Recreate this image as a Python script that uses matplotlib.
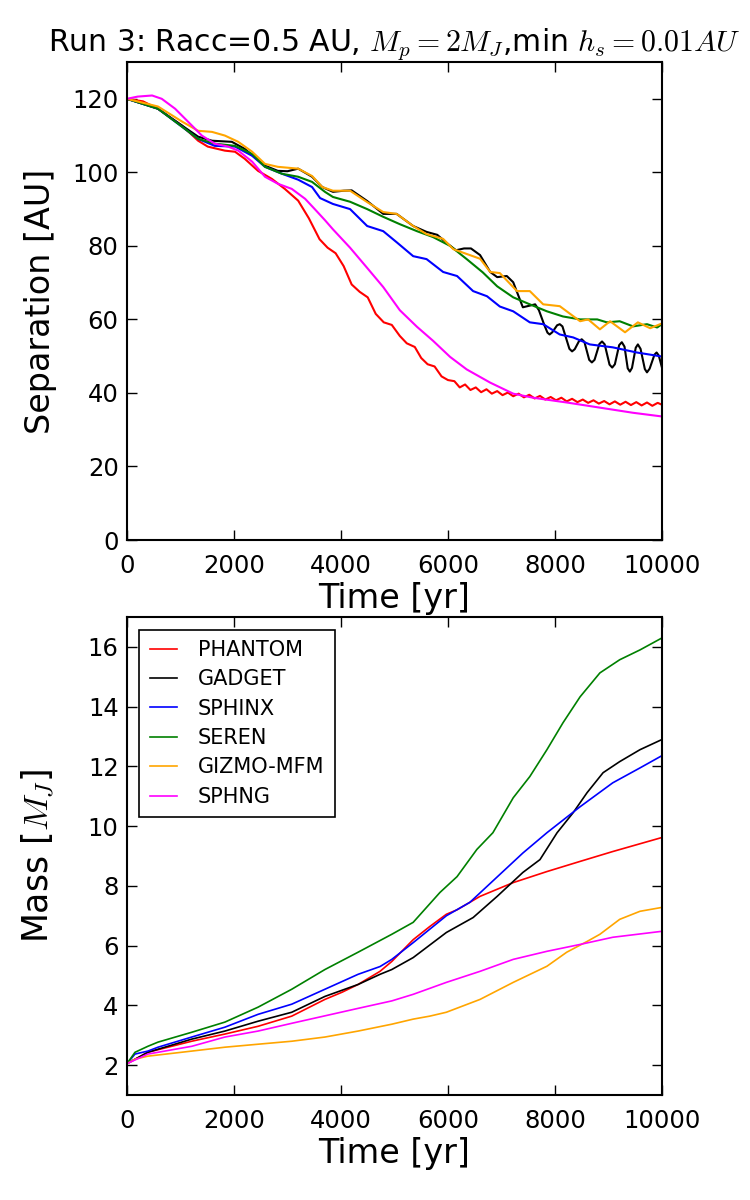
import matplotlib
matplotlib.use("Agg")
import matplotlib.pyplot as plt

plt.rcParams["font.family"] = ["DejaVu Sans"]
plt.rcParams["mathtext.fontset"] = "cm"

codes = ["PHANTOM", "GADGET", "SPHINX", "SEREN", "GIZMO-MFM", "SPHNG"]
colors = ["red", "black", "blue", "green", "orange", "magenta"]

# ---- separation [AU] vs time [yr] ----
t_sep_phantom = [0, 300, 580, 800, 1030, 1330, 1510, 1830, 2020, 2200, 2450, 2710, 2950,
                 3200, 3400, 3600, 3750, 3900, 4050, 4200, 4350, 4500, 4650, 4800, 4950,
                 5100, 5230, 5380, 5500, 5620, 5750, 5880, 6000, 6120,
                 6220, 6320, 6420, 6520, 6620, 6720, 6820, 6920, 7020, 7120, 7220, 7320,
                 7420, 7520, 7620, 7720, 7820, 7920, 8020, 8120, 8220, 8320, 8420, 8520,
                 8620, 8720, 8820, 8920, 9020, 9120, 9220, 9320, 9420, 9520, 9620, 9720,
                 9820, 9920, 10000]
sep_phantom = [120, 119.3, 117.3, 115, 112.7, 108.6, 107, 105.9, 105.6, 103.7, 100.4, 98.2, 95.5,
               92.3, 87.5, 81.8, 79.5, 78, 74.5, 69.5, 67.5, 66, 61.5, 59.2, 58.5,
               55.5, 53.5, 52.5, 49.5, 47.8, 47.2, 44.5, 43.5, 43.2,
               41.5, 42.3, 40.8, 41.5, 40.2, 41.0, 39.8, 40.5, 39.4, 40.1, 39.1, 39.8,
               38.8, 39.5, 38.5, 39.2, 38.2, 38.9, 38.0, 38.7, 37.7, 38.4, 37.5, 38.2,
               37.3, 38.0, 37.1, 37.8, 36.9, 37.7, 36.8, 37.6, 36.7, 37.5, 36.6, 37.4,
               36.5, 37.3, 36.8]

t_sep_gadget = [0, 580, 1030, 1330, 1590, 1960, 2200, 2580, 2820, 3000, 3200, 3460, 3650,
                3850, 4050, 4200, 4490, 4790, 5040, 5350, 5600, 5800, 6000, 6150, 6300,
                6430, 6600, 6790, 6920, 7100, 7220, 7400, 7630, 7700, 7800, 7860, 7900,
                7950, 8040, 8090, 8140, 8270, 8320, 8370, 8450, 8500, 8550, 8640, 8690,
                8740, 8830, 8880, 8930, 9020, 9070, 9120, 9200, 9250, 9300, 9360, 9400,
                9440, 9510, 9550, 9600, 9680, 9720, 9770, 9860, 9900, 9940, 10000]
sep_gadget = [120, 117.3, 112.7, 109.7, 108.6, 108.3, 106.4, 101.8, 100.4, 100.3, 101, 98.8, 96,
              94.7, 95, 95.1, 92.2, 88.7, 88.7, 85.4, 83.8, 83.0, 80.5, 78.8, 79.3,
              79.3, 77.5, 72.9, 71.5, 71.8, 70.1, 63.3, 64.1, 62.5, 58.5, 56.4, 55.9,
              56.5, 58.4, 58.7, 58.1, 52.0, 51.3, 51.9, 54.1, 54.6, 53.9, 49.0, 48.3,
              49.0, 53.3, 54.0, 53.2, 47.7, 46.9, 47.8, 53.0, 53.8, 52.6, 46.7, 45.8,
              46.8, 52.3, 53.2, 52.0, 46.5, 45.6, 46.6, 50.4, 51.0, 50.2, 46.9]

t_sep_sphinx = [0, 580, 1030, 1330, 1640, 2020, 2340, 2580, 2900, 3200, 3460, 3610, 3850,
                4170, 4490, 4790, 5040, 5350, 5600, 5910, 6170, 6470, 6730, 6970, 7220,
                7530, 7780, 8090, 8340, 8650, 9080, 9530, 10000]
sep_sphinx = [120, 117.3, 112.4, 109.1, 107.2, 107, 104.5, 101.5, 99.6, 98, 96, 93, 91.4,
              90, 85.4, 84, 81, 77.2, 76.4, 72.9, 71.8, 67.7, 66.3, 63.5, 62.2,
              59.2, 58.7, 55.9, 55.1, 53.2, 52.4, 51, 49.9]

t_sep_seren = [0, 580, 1030, 1330, 1640, 2020, 2340, 2580, 2900, 3200, 3460, 3700, 3850,
               4170, 4490, 4790, 5100, 5420, 5720, 6040, 6350, 6650, 6920, 7220, 7530,
               7850, 8150, 8470, 8790, 8970, 9210, 9460, 9720, 9910, 10000]
sep_seren = [120, 117.3, 112.4, 109.1, 107.8, 107.2, 105, 101.5, 99.6, 98.8, 97.4, 94.7, 93.3,
             92, 90, 87.9, 85.9, 84, 82.4, 80, 76.4, 72.8, 69, 66, 64.1,
             62.2, 60.8, 60, 60, 59.2, 59.5, 58.1, 58.7, 57.8, 58.7]

t_sep_gizmo = [0, 580, 1030, 1330, 1590, 1830, 2080, 2340, 2580, 2820, 3200, 3460, 3650,
               3850, 4170, 4490, 4790, 5040, 5350, 5600, 5910, 6100, 6350, 6600, 6790,
               6970, 7290, 7530, 7780, 8090, 8470, 8620, 8840, 9030, 9310, 9550, 9780, 10000]
sep_gizmo = [120, 117.9, 113.8, 111.3, 111, 110, 108.3, 105.6, 102.3, 101.5, 101, 99, 96,
             95, 95, 91.9, 89.2, 88.7, 85.4, 83.2, 81.9, 79.1, 77.8, 76.5, 72.9,
             72.6, 67.7, 67.7, 64.1, 63.6, 59.5, 60, 57.3, 59.5, 56.5, 59.2, 57.6, 58.9]

t_sep_sphng = [0, 200, 470, 650, 900, 1140, 1400, 1640, 1890, 2080, 2340, 2580, 2820, 3080,
               3330, 3510, 3700, 3850, 4170, 4490, 4790, 5100, 5420, 5720, 6040, 6350,
               6790, 7220, 7590, 8220, 8840, 9460, 10000]
sep_sphng = [120, 120.6, 120.9, 120, 117.3, 113.8, 110, 107.8, 107, 105.9, 102.9, 98.8, 96.9, 95.5,
             92.8, 90, 87, 84.5, 79.5, 74, 68.8, 62.5, 58, 54.2, 49.8, 46.4,
             42.8, 39.8, 38.7, 37.4, 36, 34.6, 33.6]

# ---- accreted mass [M_J] vs time [yr] ----
t_mass_phantom = [0, 390, 1210, 1830, 2450, 3080, 3700, 4020, 4320, 4730, 4950, 5350, 5660,
                  5970, 6170, 6600, 7220, 7850, 8470, 9080, 10000]
mass_phantom = [2.05, 2.43, 2.8, 3.04, 3.3, 3.64, 4.2, 4.44, 4.7, 5.14, 5.47, 6.2, 6.64,
                7.05, 7.2, 7.65, 8.11, 8.48, 8.82, 9.15, 9.62]

t_mass_gadget = [0, 390, 1210, 1830, 2450, 3080, 3700, 4320, 4730, 4950, 5350, 5970, 6470,
                 6920, 7400, 7720, 8040, 8340, 8600, 8900, 9210, 9590, 10000]
mass_gadget = [2.05, 2.43, 2.87, 3.14, 3.47, 3.77, 4.3, 4.7, 5.04, 5.2, 5.6, 6.44, 6.94,
               7.65, 8.45, 8.88, 9.78, 10.45, 11.12, 11.79, 12.16, 12.56, 12.9]

t_mass_sphinx = [0, 150, 390, 580, 1210, 1830, 2450, 3080, 3700, 4320, 4730, 4950, 5350,
                 5970, 6410, 6920, 7400, 7850, 8470, 9080, 9590, 10000]
mass_sphinx = [2.05, 2.37, 2.47, 2.6, 2.94, 3.27, 3.7, 4.04, 4.54, 5.04, 5.3, 5.54, 6.1,
               7.0, 7.45, 8.3, 9.1, 9.78, 10.65, 11.45, 11.95, 12.36]

t_mass_seren = [0, 150, 390, 580, 1210, 1830, 2450, 3080, 3700, 4320, 4950, 5350, 5850,
                6170, 6540, 6840, 7220, 7530, 7850, 8150, 8470, 8840, 9210, 9590, 10000]
mass_seren = [2.05, 2.43, 2.63, 2.77, 3.1, 3.44, 3.94, 4.54, 5.2, 5.78, 6.38, 6.78, 7.78,
              8.31, 9.22, 9.78, 10.95, 11.66, 12.56, 13.46, 14.33, 15.13, 15.57, 15.9, 16.3]

t_mass_gizmo = [0, 150, 390, 1210, 1830, 2450, 3080, 3700, 4320, 4950, 5350, 5660, 5970,
                6600, 7220, 7850, 8220, 8600, 8840, 9210, 9590, 10000]
mass_gizmo = [2.05, 2.2, 2.3, 2.47, 2.6, 2.7, 2.8, 2.94, 3.14, 3.37, 3.54, 3.64, 3.77,
              4.2, 4.77, 5.31, 5.78, 6.14, 6.38, 6.88, 7.15, 7.28]

t_mass_sphng = [0, 390, 1210, 1830, 2450, 3080, 3700, 4320, 4950, 5350, 5970, 6600, 7220,
                7850, 8470, 9080, 10000]
mass_sphng = [2.05, 2.37, 2.63, 2.94, 3.14, 3.4, 3.65, 3.9, 4.15, 4.37, 4.77, 5.14, 5.54,
              5.81, 6.04, 6.28, 6.48]

sep_series = [(t_sep_phantom, sep_phantom), (t_sep_gadget, sep_gadget),
              (t_sep_sphinx, sep_sphinx), (t_sep_seren, sep_seren),
              (t_sep_gizmo, sep_gizmo), (t_sep_sphng, sep_sphng)]
mass_series = [(t_mass_phantom, mass_phantom), (t_mass_gadget, mass_gadget),
               (t_mass_sphinx, mass_sphinx), (t_mass_seren, mass_seren),
               (t_mass_gizmo, mass_gizmo), (t_mass_sphng, mass_sphng)]

fig = plt.figure(figsize=(7.5, 12), dpi=100)
ax1 = fig.add_axes([0.1693, 0.55, 0.7133, 0.3983])
ax2 = fig.add_axes([0.1693, 0.0875, 0.7133, 0.3983])

for (t, s), c, lab in zip(sep_series, colors, codes):
    ax1.plot(t, s, color=c, lw=1.5, label=lab, solid_joinstyle="round")
for (t, m), c, lab in zip(mass_series, colors, codes):
    ax2.plot(t, m, color=c, lw=1.2, label=lab, solid_joinstyle="round")

ax1.set_xlim(0, 10000)
ax1.set_ylim(0, 130)
ax1.set_yticks(range(0, 121, 20))
ax2.set_xlim(0, 10000)
ax2.set_ylim(1, 17)
ax2.set_yticks(range(2, 17, 2))

for ax in (ax1, ax2):
    ax.set_xticks(range(0, 10001, 2000))
    ax.tick_params(direction="in", top=True, right=True, length=7, width=1,
                   labelsize=17.5, pad=6)
    ax.tick_params(axis="x", pad=10)
    for sp in ax.spines.values():
        sp.set_linewidth(1.5)
    ax.set_xlabel("Time [yr]", fontsize=24, labelpad=3)
    ax.yaxis.set_label_coords(-0.13, 0.5)

ax1.set_ylabel("Separation [AU]", fontsize=24)
ax2.set_ylabel("Mass [$M_J$]", fontsize=25)
ax1.set_title(r"Run 3: Racc=0.5 AU, $M_p=2M_J$,min $h_s=0.01AU$", fontsize=21.5, pad=8)

leg = ax2.legend(loc="upper left", fontsize=15, handlelength=1.3, handletextpad=1.0,
                 labelspacing=0.45, borderpad=0.5, borderaxespad=0.6,
                 fancybox=False, framealpha=1)
leg.get_frame().set_edgecolor("black")
leg.get_frame().set_linewidth(1.2)

fig.savefig("out.png", dpi=100, facecolor="white")
